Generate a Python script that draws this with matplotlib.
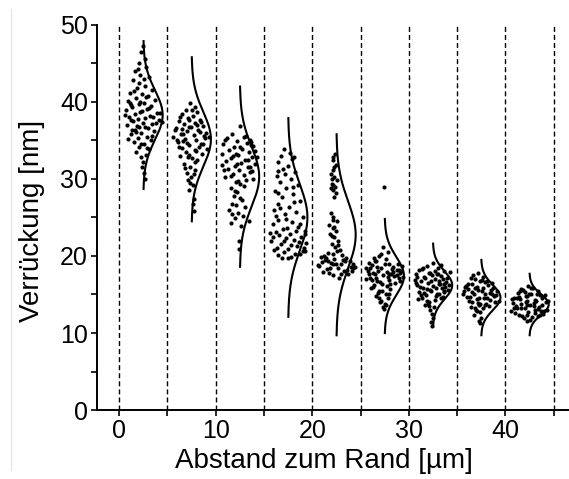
"""Displacement vs. distance from the edge: jittered points plus normal curves per bin."""

import matplotlib

matplotlib.use("Agg")

import matplotlib.pyplot as plt
import numpy as np
from matplotlib.lines import Line2D
from matplotlib.ticker import MultipleLocator

plt.rcParams["font.family"] = ["Liberation Sans", "DejaVu Sans"]

# bin centres in um (bins are 5 um wide)
centers = [2.5, 7.5, 12.5, 17.5, 22.5, 27.5, 32.5, 37.5, 42.5]
bin_edges = [0, 5, 10, 15, 20, 25, 30, 35, 40, 45]

# normal fit per bin: mean, sd [nm]
fit_mean = [38.3, 35.15, 30.3, 25.0, 22.75, 17.4, 16.2, 14.6, 13.7]
fit_sd = [3.2, 3.55, 3.9, 4.3, 4.35, 2.47, 1.8, 1.63, 1.33]

# measured displacements [nm] and horizontal jitter [um] per bin
y_1 = [47.2, 46.5, 45.1, 44.6, 44.0, 43.5, 43.2, 42.8, 42.5, 42.1, 41.8, 41.5,
       41.2, 41.0, 40.8, 40.5, 40.3, 40.1, 39.9, 39.7, 39.5, 39.3, 39.1, 38.9,
       38.7, 38.6, 38.4, 38.2, 38.1, 37.9, 37.8, 37.6, 37.5, 37.3, 37.1, 37.0,
       36.8, 36.6, 36.4, 36.2, 36.0, 35.8, 35.5, 35.3, 35.0, 34.8, 34.5, 34.2,
       33.9, 33.5, 33.1, 32.8, 32.2, 31.5, 30.8, 30.0, 38.3, 39.6, 37.4, 36.9,
       41.4, 40.6, 39.8, 39.2, 38.8, 38.0, 37.7, 37.2, 36.7, 36.1, 35.6, 35.2,
       34.6, 34.0, 43.0, 44.3, 45.6, 40.0, 38.5, 36.3]
dx_1 = [0.0, -0.2, -0.5, 0.3, -0.9, -0.3, 0.6, -1.1, -0.4, 0.2, -0.7, 0.9,
        -1.4, -0.1, 0.5, -0.8, 1.2, -1.6, 0.1, -0.5, 0.8, -1.2, 0.4, -1.8,
        -0.3, 1.4, -0.9, 0.7, -1.5, 0.2, -0.6, 1.6, -1.1, 0.0, 0.9, -1.7,
        -0.4, 0.5, -0.9, 1.1, -0.2, -1.3, 0.4, -0.6, 0.8, -1.0, 0.1, -0.4,
        0.6, -0.8, 0.3, -0.2, 0.0, -0.1, 0.1, 0.2, -1.9, -1.3, 1.9, -0.7,
        -1.0, 0.3, -1.4, 0.6, -0.1, 1.0, -1.3, 1.3, 0.2, -0.8, 0.9, -1.6,
        -0.2, 0.4, 0.1, -0.6, 0.2, -0.3, 1.7, -1.2]

y_2 = [39.8, 39.4, 39.0, 38.7, 38.4, 38.2, 37.9, 37.7, 37.5, 37.3, 37.1, 36.9,
       36.8, 36.6, 36.4, 36.2, 36.0, 35.9, 35.7, 35.5, 35.4, 35.2, 35.0, 34.8,
       34.6, 34.4, 34.2, 34.0, 33.8, 33.5, 33.3, 33.0, 32.7, 32.4, 32.0, 31.6,
       31.2, 30.8, 30.3, 29.8, 29.2, 28.6, 27.4, 26.8, 25.8, 36.3, 35.6, 34.9,
       33.9, 37.6,
       38.9, 38.0, 37.4, 36.7, 36.1, 35.8, 35.3, 34.7, 34.1, 33.6, 33.1, 32.2,
       31.4, 30.6, 29.5, 37.0, 35.1, 34.5, 36.5, 32.9]
dx_2 = [-0.2, 0.3, -0.6, 0.6, -1.0, 0.1, -0.4, 0.9, -1.3, 0.4, -0.8, 1.2,
        -0.1, -1.6, 0.7, -0.5, 1.5, -1.1, 0.2, -1.9, 1.8, -0.7, 0.5, -1.4,
        1.0, -0.3, 0.8, -1.0, 0.3, -0.6, 1.1, -1.2, 0.0, 0.6, -0.8, -0.2,
        0.4, -0.5, -0.1, -0.4, 0.1, -0.3, 0.2, 0.1, 0.2, -1.7, 1.3, -0.9,
        1.6, -0.3,
        0.0, -1.2, 1.0, -0.3, 0.9, -0.9, 1.4, -0.5, -1.3, 0.5, -0.3, 0.3,
        -0.7, 0.2, -0.2, 0.6, -1.5, 1.2, -1.0, -0.4]

y_3 = [36.9, 35.8, 35.5, 35.3, 35.1, 34.9, 34.7, 34.5, 34.3, 34.1, 33.9, 33.7,
       33.5, 33.3, 33.1, 32.9, 32.7, 32.5, 32.3, 32.1, 31.9, 31.7, 31.5, 31.3,
       31.1, 30.9, 30.7, 30.5, 30.2, 29.9, 29.6, 29.3, 28.8, 28.3, 27.8, 27.3,
       26.8, 26.4, 26.0, 25.6, 25.2, 24.9, 24.6, 24.3, 23.9, 22.0, 20.9, 32.8,
       31.2, 34.4,
       35.6, 35.0, 34.2, 33.6, 33.0, 32.4, 31.8, 31.0, 30.4, 29.7, 29.1, 28.5,
       27.5, 26.6, 25.4, 34.8, 32.0, 30.0, 33.2, 31.6]
dx_3 = [0.0, -0.8, 0.4, -1.3, 1.0, -0.3, 0.7, -1.7, 1.4, -0.6, 0.2, -1.1,
        0.9, -1.9, -0.2, 1.3, -0.9, 0.5, -1.4, 0.1, 1.6, -0.5, 0.8, -1.2,
        -0.1, 1.1, -0.7, 0.4, -1.5, 0.6, -0.4, 0.0, -0.9, -0.3, -0.6, 0.2,
        -0.8, 0.5, -1.1, -0.2, 0.3, -0.5, 0.9, -0.9, 0.1, -0.1, -0.1, 1.8,
        -1.6, 1.2,
        0.6, -1.5, 0.0, 1.6, -0.7, 0.8, -1.8, 1.3, -0.9, -0.2, 0.4, -0.5,
        0.0, -0.4, -0.8, 1.2, -0.3, 1.4, -0.4, 1.0]

y_4 = [33.9, 33.4, 33.0, 32.6, 32.2, 31.7, 31.3, 30.9, 30.4, 30.0, 29.6, 29.2,
       28.8, 28.4, 28.0, 27.6, 27.2, 26.8, 26.4, 26.0, 25.7, 25.4, 25.0, 24.7,
       24.4, 24.1, 23.8, 23.5, 23.3, 23.1, 22.9, 22.7, 22.5, 22.3, 22.1, 21.9,
       21.7, 21.5, 21.3, 21.1, 20.9, 20.7, 20.5, 20.3, 20.1, 19.9, 19.7, 23.0,
       21.8, 20.6,
       32.9, 31.0, 29.0, 27.0, 25.2, 24.2, 23.6, 22.8, 22.0, 21.4, 20.8, 20.2,
       21.0, 22.4, 23.2, 24.8, 26.2, 28.2, 30.6, 19.8]
dx_4 = [-0.4, 0.2, -0.7, 0.4, -1.0, 0.0, -0.5, 0.7, -1.2, 0.3, -0.8, 1.0,
        -0.2, -1.4, 0.5, -0.6, 1.2, -1.0, 0.1, -1.5, 0.8, -0.3, 1.5, -1.1,
        0.4, -1.6, 1.0, -0.5, 1.7, -1.3, 0.2, -0.9, 1.3, -0.2, 0.6, -1.8,
        1.9, -0.7, 0.9, -1.2, 0.0, 1.5, -0.4, 0.7, -1.0, 0.3, -0.6, -1.9,
        1.1, 1.8,
        0.6, -1.1, 0.5, 0.6, -1.3, 1.2, -0.1, 1.8, -0.4, 0.3, -1.5, 1.2,
        1.6, -1.6, 0.8, -0.2, -0.8, -1.0, -0.3, 0.0]

y_5 = [33.2, 32.4, 31.8, 31.2, 30.6, 30.2, 29.8, 29.4, 29.0, 28.6, 28.2, 27.6,
       25.6, 25.0, 24.5, 24.0, 23.6, 23.2, 22.8, 22.4, 22.0, 21.6, 21.2, 20.8,
       20.4, 20.1, 19.9, 19.7, 19.5, 19.3, 19.1, 18.9, 18.7, 18.5, 18.3, 18.1,
       17.9, 17.7, 17.5, 19.6, 19.0, 18.4, 18.0, 20.2, 19.4, 18.8, 17.2, 18.6,
       19.8, 30.0,
       19.2, 18.2, 19.0, 17.8, 18.6, 19.5, 20.0, 18.9, 23.8, 22.6, 21.4, 31.5,
       29.2, 24.7, 18.4, 17.6, 19.3, 20.6, 32.8, 28.8]
dx_5 = [-0.1, -0.4, 0.0, -0.3, -0.6, -0.2, 0.1, -0.5, -0.1, -0.4, 0.0, -0.2,
        -0.6, -0.3, 0.1, -0.8, -0.4, 0.0, -0.7, -0.2, 0.2, -0.5, -0.1, 0.4,
        -0.9, 0.6, -1.6, 1.0, -1.2, 1.4, -0.6, 1.7, -1.8, 0.2, -1.0, 0.8,
        -1.4, 1.2, -0.3, -0.2, 0.5, -0.7, 1.6, -0.4, 0.9, -1.9, 0.3, 1.9,
        -1.1, -0.5,
        -1.5, 1.1, -0.3, -0.8, 1.5, 0.7, -1.3, 0.0, -0.2, -0.5, 0.2, -0.2,
        -0.3, -0.4, 1.7, 0.5, -0.9, 0.1, -0.3, -0.6]

y_6 = [28.9, 21.2, 20.5, 20.0, 19.6, 19.3, 19.0, 18.8, 18.6, 18.4, 18.2, 18.0,
       17.9, 17.8, 17.7, 17.6, 17.5, 17.3, 17.1, 16.9, 16.7, 16.5, 16.3, 16.0,
       15.7, 15.4, 15.1, 14.8, 14.5, 14.2, 13.8, 13.4, 18.5, 17.8, 18.1, 17.4,
       16.6, 19.1, 18.3, 17.0, 15.9, 15.2, 14.0, 18.9, 17.6, 16.2, 18.0, 17.2,
       13.1, 19.8,
       18.7, 18.4, 17.9, 17.5, 17.2, 16.8, 16.4, 19.4, 18.2, 17.7, 16.1, 15.5,
       14.6, 13.6, 18.6, 17.3, 16.9, 19.0, 20.3, 15.0]
dx_6 = [-0.1, -0.2, 0.3, -0.6, 0.1, -0.9, 0.5, -1.3, 0.9, -0.4, 1.3, -1.7,
        0.2, 1.6, -1.0, 0.7, -0.2, 1.9, -1.5, 0.4, -0.8, 1.1, -0.3, -1.2,
        0.6, -0.6, 0.1, -0.9, 0.3, -0.4, 0.0, -0.2, -1.9, -1.2, 1.7, 1.0,
        -0.5, -1.6, 0.8, -1.9, -1.4, -0.7, -0.5, 1.4, 0.5, -1.1, -0.7, 1.5,
        -0.1, -1.1,
        1.8, -1.5, 0.9, 1.3, -0.9, 1.6, 0.6, -1.0, 1.5, -1.6, 0.2, -0.3,
        -0.6, 0.1, -0.8, 0.3, -1.3, 0.0, -0.4, 0.4]

y_7 = [19.1, 18.7, 18.4, 18.2, 18.0, 17.8, 17.6, 17.4, 17.3, 17.1, 17.0, 16.8,
       16.7, 16.5, 16.4, 16.2, 16.1, 15.9, 15.8, 15.6, 15.5, 15.3, 15.1, 14.9,
       14.7, 14.5, 14.3, 14.0, 13.7, 13.4, 13.0, 12.5, 12.0, 11.4, 10.9, 17.9,
       17.5, 16.9, 16.3, 15.7, 15.0, 14.4, 16.6, 17.2, 15.4, 18.5, 16.0, 14.8,
       13.8, 17.7,
       18.8, 18.3, 17.6, 17.0, 16.5, 16.0, 15.6, 15.2, 14.6, 14.1, 13.5, 17.3,
       16.2, 15.8, 17.8, 16.7, 15.3, 14.9, 18.1, 16.4]
dx_7 = [0.0, -0.6, 0.5, -1.4, 1.1, -0.3, -1.8, 0.8, -0.9, 1.5, 0.2, -1.2,
        0.6, -0.5, 1.2, -1.6, 0.0, 0.9, -1.0, 1.6, -0.2, -1.4, 0.4, -0.7,
        1.0, -1.1, 0.2, -0.4, -0.8, 0.1, -0.3, -0.1, 0.0, -0.2, -0.1, 1.8,
        -0.1, -1.9, 0.7, -0.6, 0.6, -1.5, 1.4, -0.8, 1.1, -1.0, -1.3, 0.3,
        -0.5, 0.4,
        0.8, -1.1, 0.5, 1.0, -1.7, 1.3, -0.3, -0.9, 0.8, -0.6, -0.4, -1.6,
        1.7, 0.3, -0.4, -0.2, 1.2, -1.2, 0.2, 0.6]

y_8 = [17.8, 17.3, 17.0, 16.8, 16.6, 16.4, 16.2, 16.0, 15.9, 15.7, 15.5, 15.4,
       15.2, 15.0, 14.9, 14.7, 14.5, 14.4, 14.2, 14.0, 13.8, 13.6, 13.4, 13.2,
       13.0, 12.7, 12.4, 12.0, 11.6, 11.3, 16.1, 15.6, 15.1, 14.6, 14.1, 13.5,
       16.9, 15.3, 14.8, 13.9,
       17.5, 16.7, 16.3, 15.8, 15.4, 15.1, 14.7, 14.3, 13.8, 13.3, 16.5, 16.0,
       15.0, 14.5, 13.7, 15.6, 17.1, 12.9, 14.0, 15.9]
dx_8 = [-0.3, 0.2, -0.6, -0.1, 0.4, -1.0, 0.7, -0.4, 1.2, -1.4, 0.1, -1.8,
        0.9, -0.7, 1.5, -1.2, 0.3, -0.4, 1.8, -0.9, 0.5, -0.2, -1.1, 0.2,
        -0.5, -0.1, -0.7, 0.0, -0.2, -0.1, -1.6, 1.0, -1.9, 0.6, -1.3, 0.8,
        0.1, -0.9, 1.3, -0.3,
        -0.8, 0.6, -1.4, -0.6, 1.6, 0.4, -1.5, 0.9, -0.1, -0.6, 1.1, -1.7,
        1.1, -0.2, 0.4, -0.3, -1.1, -0.4, 1.4, 0.2]

y_9 = [16.1, 15.8, 15.6, 15.4, 15.2, 15.0, 14.8, 14.6, 14.5, 14.3, 14.1, 14.0,
       13.8, 13.7, 13.5, 13.4, 13.2, 13.0, 12.9, 12.7, 12.5, 12.3, 12.1, 11.9,
       11.7, 11.5, 15.5, 14.9, 14.4, 13.9, 13.3, 12.8, 12.2, 14.2, 13.6, 15.1,
       12.6, 13.1, 14.7, 12.4,
       15.9, 15.3, 14.9, 14.6, 14.2, 13.9, 13.5, 13.2, 12.8, 12.4, 15.7, 14.0,
       13.0, 12.2, 14.4, 13.6, 12.6, 15.0, 13.3, 14.8]
dx_9 = [-0.1, 0.4, -0.7, 0.9, -1.2, 0.2, -0.4, 1.3, -1.6, 0.6, -0.2, 1.7,
        -0.9, 0.1, -1.4, 1.0, -0.5, 0.6, -1.9, -0.1, 1.4, -1.1, 0.3, -0.6,
        0.1, -0.3, -1.0, 1.6, -1.8, 0.5, -1.3, 1.2, -0.8, 1.9, -0.3, 0.0,
        -1.5, 0.9, -1.1, 1.1,
        0.2, -0.5, 1.1, -1.3, 0.7, -1.7, 0.5, -0.9, 1.5, -0.2, -0.9, -0.4,
        1.8, 0.9, -1.0, 1.3, 0.6, 0.8, -1.6, -0.2]

y_bins = [y_1, y_2, y_3, y_4, y_5, y_6, y_7, y_8, y_9]
dx_bins = [dx_1, dx_2, dx_3, dx_4, dx_5, dx_6, dx_7, dx_8, dx_9]

CURVE_WIDTH = 2.0  # peak height of each normal curve, in x units


def main() -> None:
    fig = plt.figure(figsize=(5.69, 4.79), dpi=100)
    ax = fig.add_axes([0.1705, 0.144, 0.8295, 0.804])

    for edge in bin_edges:
        ax.axvline(edge, color="black", lw=1.0, ls=(0, (3.6, 2.2)), zorder=1)

    for c, ys, dxs, mu, sd in zip(centers, y_bins, dx_bins, fit_mean, fit_sd):
        assert len(ys) == len(dxs), (c, len(ys), len(dxs))
        ax.scatter(c + np.asarray(dxs), ys, s=9, color="black", lw=0, zorder=3)
        yy = np.linspace(mu - 3 * sd, mu + 3 * sd, 200)
        xx = c + CURVE_WIDTH * np.exp(-0.5 * ((yy - mu) / sd) ** 2)
        ax.plot(xx, yy, color="black", lw=1.5, zorder=2)

    ax.set_xlim(-2.3, 46.6)
    ax.set_ylim(0, 50)
    ax.xaxis.set_major_locator(MultipleLocator(10))
    ax.xaxis.set_minor_locator(MultipleLocator(5))
    ax.yaxis.set_major_locator(MultipleLocator(10))
    ax.yaxis.set_minor_locator(MultipleLocator(5))

    for side in ("top", "right"):
        ax.spines[side].set_visible(False)
    for side in ("left", "bottom"):
        ax.spines[side].set_linewidth(1.4)

    ax.tick_params(which="both", direction="out", length=4.5, width=1.2,
                   labelsize=18)
    ax.tick_params(axis="x", pad=2)
    ax.tick_params(axis="y", pad=2)
    ax.set_xlabel("Abstand zum Rand [µm]", fontsize=20)
    ax.set_ylabel("Verrückung [nm]", fontsize=20)
    ax.xaxis.set_label_coords(0.481, -0.098)
    ax.yaxis.set_label_coords(-0.11, 0.49)

    # thin grey border line at the left of the canvas
    fig.add_artist(Line2D([11 / 569, 11 / 569], [9 / 479, 470 / 479],
                          color="#e4e4e4", lw=0.8))

    fig.savefig("out.png", dpi=100)
    plt.close(fig)


if __name__ == "__main__":
    main()
